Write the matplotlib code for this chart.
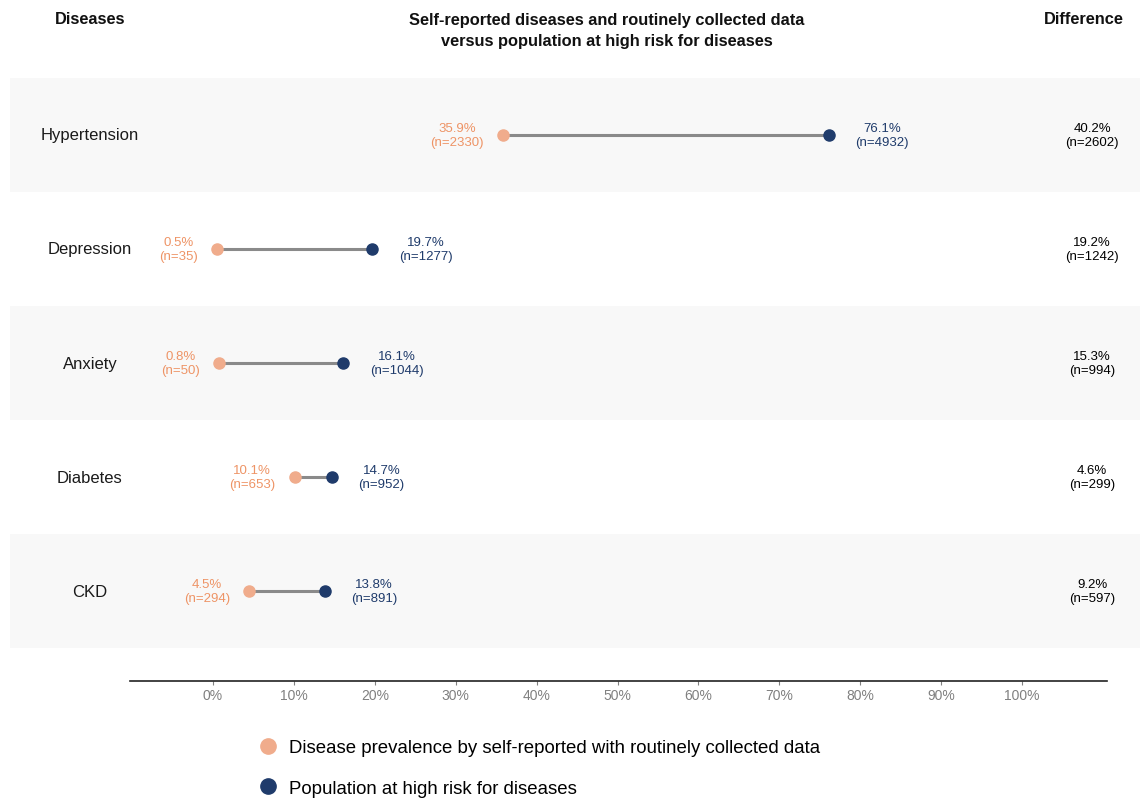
import matplotlib.pyplot as plt
from matplotlib.lines import Line2D

diseases = ['Hypertension', 'Depression', 'Anxiety', 'Diabetes', 'CKD']
self_pct = [35.9, 0.5, 0.8, 10.1, 4.5]
self_n = [2330, 35, 50, 653, 294]
risk_pct = [76.1, 19.7, 16.1, 14.7, 13.8]
risk_n = [4932, 1277, 1044, 952, 891]
diff_pct = [40.2, 19.2, 15.3, 4.6, 9.2]
diff_n = [2602, 1242, 994, 299, 597]
ticks = [0, 10, 20, 30, 40, 50, 60, 70, 80, 90, 100]

ORANGE = '#F0AC8C'
ORANGE_TXT = '#EE9466'
BLUE = '#1F3B6B'
GREY_LINE = '#8A8A8A'
BAND = '#F8F8F8'

plt.rcParams['font.family'] = ['Liberation Sans', 'DejaVu Sans']

W, H = 1145, 804
fig = plt.figure(figsize=(W / 100, H / 100), dpi=100)
ax = fig.add_axes([10 / W, 122 / H, 1130 / W, 604 / H])

px = 8.09  # pixels per percentage point
x0 = (10 - 213) / px
x1 = (1140 - 213) / px
ax.set_xlim(x0, x1)
ax.set_ylim(4.785, -0.505)

for i in range(len(diseases)):
    if i % 2 == 0:
        ax.axhspan(i - 0.5, i + 0.5, color=BAND, lw=0, zorder=0)

for i, d in enumerate(diseases):
    ax.plot([self_pct[i], risk_pct[i]], [i, i], color=GREY_LINE, lw=2.2, zorder=2,
            solid_capstyle='butt')
    ax.plot(self_pct[i], i, 'o', color=ORANGE, ms=8, zorder=3)
    ax.plot(risk_pct[i], i, 'o', color=BLUE, ms=8, zorder=3)
    ax.annotate(f'{self_pct[i]}%\n(n={self_n[i]})', (self_pct[i], i),
                xytext=(-14, 0), textcoords='offset points', ha='right', va='center',
                multialignment='center', color=ORANGE_TXT, fontsize=9.5, linespacing=1.2)
    ax.annotate(f'{risk_pct[i]}%\n(n={risk_n[i]})', (risk_pct[i], i),
                xytext=(19, 0), textcoords='offset points', ha='left', va='center',
                multialignment='center', color=BLUE, fontsize=9.5, linespacing=1.2)
    ax.text((90 - 213) / px, i, d, ha='center', va='center', fontsize=12, color='#1a1a1a')
    ax.text((1092 - 213) / px, i, f'{diff_pct[i]}%\n(n={diff_n[i]})', ha='center',
            va='center', fontsize=9.5, color='black', linespacing=1.2)

for s in ['top', 'left', 'right']:
    ax.spines[s].set_visible(False)
ax.spines['bottom'].set_bounds((130 - 213) / px, (1107 - 213) / px)
ax.spines['bottom'].set_linewidth(1.2)
ax.spines['bottom'].set_color('#222222')
ax.set_yticks([])
ax.set_xticks(ticks)
ax.set_xticklabels([f'{t}%' for t in ticks], fontsize=10, color='#808080')
ax.tick_params(axis='x', length=3, width=0.8, color='#808080', pad=2)

hdr = dict(fontweight='bold', fontsize=11.8, color='#111111', va='center')
fig.text(90 / W, 1 - 19 / H, 'Diseases', ha='center', **hdr)
fig.text(607 / W, 1 - 31 / H,
         'Self-reported diseases and routinely collected data\nversus population at high risk for diseases',
         ha='center', linespacing=1.45, **hdr)
fig.text(1084 / W, 1 - 19 / H, 'Difference', ha='center', **hdr)

handles = [Line2D([], [], marker='o', ls='', color=ORANGE, ms=11),
           Line2D([], [], marker='o', ls='', color=BLUE, ms=11)]
labels = ['Disease prevalence by self-reported with routinely collected data',
          'Population at high risk for diseases']
fig.legend(handles, labels, loc='upper left', bbox_to_anchor=(259 / W, 1 - 740 / H),
           frameon=False, fontsize=13.4, labelspacing=1.26, handletextpad=0.6,
           handlelength=1.0, borderaxespad=0, borderpad=0)

fig.savefig('out.png', dpi=100, facecolor='white')
